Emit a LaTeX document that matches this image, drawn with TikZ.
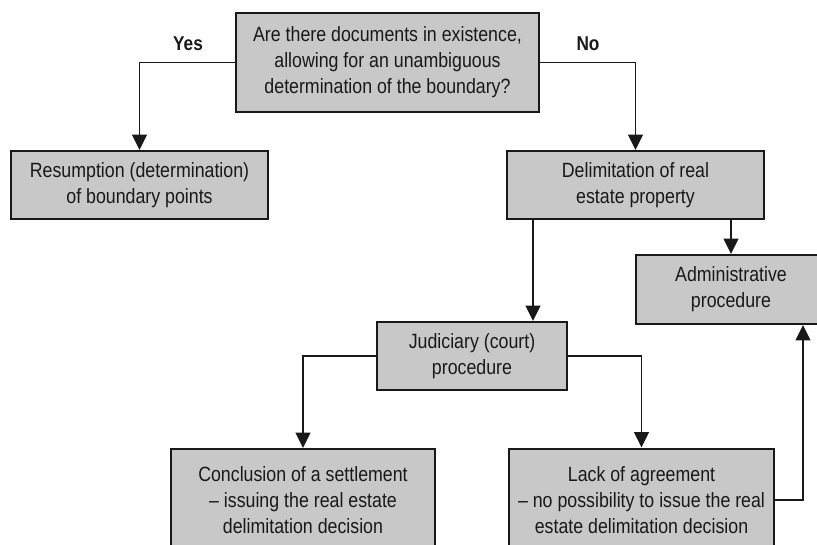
\documentclass[tikz,border=0pt]{standalone}
\usepackage{fontspec}
\setmainfont{Liberation Sans}[FakeStretch=0.86]
\usetikzlibrary{arrows.meta,calc}
\definecolor{boxfill}{RGB}{200,200,200}
\definecolor{ink}{RGB}{25,25,25}
\tikzset{
  box/.style={draw=ink, line width=1.5pt, fill=boxfill, align=center, inner sep=0pt,
    font=\fontsize{15.5}{19.5}\selectfont, text=ink},
  conn/.style={draw=ink, line width=1.25pt, -{Triangle[width=11pt,length=11.5pt]}},
  lbl/.style={font=\fontsize{15}{18}\selectfont\bfseries, text=ink}
}
\begin{document}
\begin{tikzpicture}[x=0.75pt, y=-0.75pt]
\useasboundingbox (0,0) rectangle (817,544);
\clip (0,0) rectangle (817,544);
\node[box, minimum width=227.25pt, minimum height=74.25pt] (Q) at (387.5,62.5)
  {Are there documents in existence,\\allowing for an unambiguous\\determination of the boundary?};
\node[box, minimum width=192.75pt, minimum height=51pt] (R) at (139.5,185)
  {Resumption (determination)\\of boundary points};
\node[box, minimum width=192.75pt, minimum height=51pt] (D) at (635.5,185)
  {Delimitation of real\\estate property};
\node[box, minimum width=142.5pt, minimum height=51.75pt] (A) at (731,289.5)
  {Administrative\\procedure};
\node[box, minimum width=142.5pt, minimum height=51pt] (J) at (472,356)
  {Judiciary (court)\\procedure};
\node[box, minimum width=198pt, minimum height=76.5pt] (C) at (303,500)
  {Conclusion of a settlement\\\textendash\ issuing the real estate\\delimitation decision};
\node[box, minimum width=198.75pt, minimum height=77.25pt] (L) at (641.5,500)
  {Lack of agreement\\\textendash\ no possibility to issue the real\\estate delimitation decision};
\node[lbl] (yes) at (188,44) {Yes};
\node[lbl] (no) at (588,44) {No};
\coordinate (d1) at ([xshift=20.25pt]D.south west);
\coordinate (a1) at ([xshift=54pt]A.south);
\draw[conn] (Q.west) -| (R.north);
\draw[conn] (Q.east) -| (D.north);
\draw[conn] (d1) -- (d1 |- J.north);
\draw[conn] (A.north |- D.south) -- (A.north);
\draw[conn] (J.west) -| (C.north);
\draw[conn] (J.east) -| (L.north);
\draw[conn] (L.east) -| (a1);
\end{tikzpicture}
\end{document}
